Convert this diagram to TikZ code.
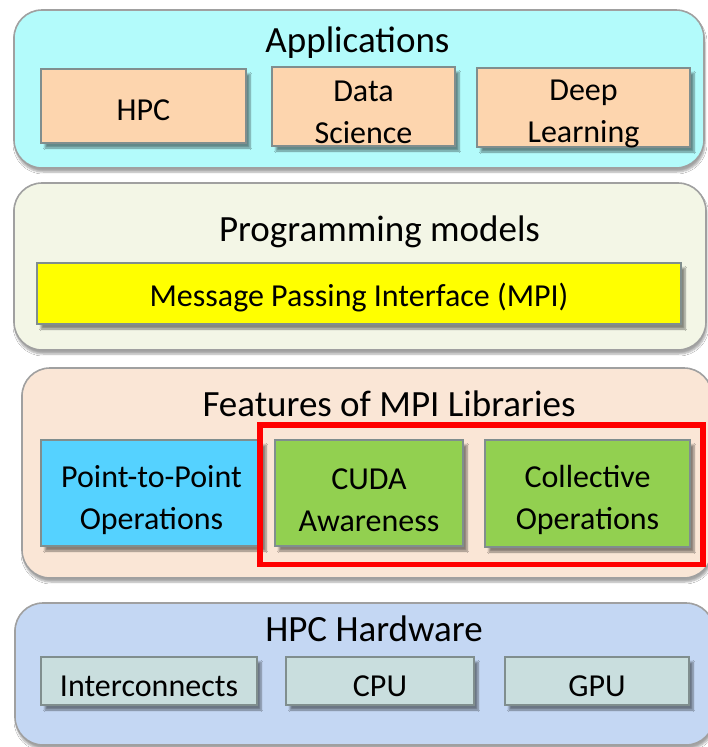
\documentclass[tikz,border=0pt]{standalone}
\usepackage{fontspec}
\setmainfont{Carlito}
\usetikzlibrary{shadows,shadows.blur}
\definecolor{appbg}{HTML}{B3FBFB}
\definecolor{progbg}{HTML}{F3F6E6}
\definecolor{featbg}{HTML}{FAE6D6}
\definecolor{hwbg}{HTML}{C4D7F3}
\definecolor{peach}{HTML}{FDD5AE}
\definecolor{mpiyel}{HTML}{FFFF00}
\definecolor{ptpblue}{HTML}{55D2FF}
\definecolor{featgreen}{HTML}{92D050}
\definecolor{hwbox}{HTML}{C9DEDE}
\definecolor{outerline}{HTML}{A0A0A0}
\definecolor{innerline}{HTML}{808E8E}
\tikzset{
  layer/.style={draw=outerline, line width=1.6pt, rounded corners=28pt,
    blur shadow={shadow xshift=1pt, shadow yshift=-4pt, shadow blur steps=6, shadow opacity=35}},
  innerbox/.style={draw=innerline, line width=1.4pt,
    blur shadow={shadow xshift=4pt, shadow yshift=-5pt, shadow blur steps=6, shadow opacity=45}},
  boxtext/.style={font=\fontsize{32}{42}\selectfont, align=center, text=black},
  titletext/.style={font=\fontsize{37}{44}\selectfont, anchor=base, text=black},
}
\begin{document}
\begin{tikzpicture}[x=1pt,y=-1pt]
\useasboundingbox (0,0) rectangle (708,747);
\fill[white] (0,0) rectangle (708,747);
% Layer 1
\draw[layer, fill=appbg] (14,10) rectangle (704,168);
\node[titletext] (apptitle) at (357.5,52) {Applications};
\draw[innerbox, fill=peach] (41,69) rectangle (246,143);
\draw[innerbox, fill=peach] (272,67) rectangle (455,146);
\draw[innerbox, fill=peach] (477,68) rectangle (690,147);
\node[boxtext] (hpc) at (143.5,110) {HPC};
\node[boxtext] (ds) at (363.5,112.5) {Data\\Science};
\node[boxtext] (dl) at (583.5,113.5) {Deep\\Learning};
% Layer 2
\draw[layer, fill=progbg] (14,183) rectangle (706,350);
\node[titletext] (progtitle) at (379.5,241) {Programming models};
\draw[innerbox, fill=mpiyel] (37,263) rectangle (681,324);
\node[boxtext] (mpi) at (359,298) {Message Passing Interface (MPI)};
% Layer 3
\draw[layer, fill=featbg] (22,368) rectangle (712,578);
\node[titletext] (feattitle) at (389,416) {Features of MPI Libraries};
\draw[innerbox, fill=ptpblue] (41,440) rectangle (262,546);
\draw[innerbox, fill=featgreen] (275,440) rectangle (463,546);
\draw[innerbox, fill=featgreen] (485,440) rectangle (690,547);
\node[boxtext] (ptp) at (151.5,500) {Point-to-Point\\Operations};
\node[boxtext] (cuda) at (369,500) {CUDA\\Awareness};
\node[boxtext] (coll) at (587.5,500) {Collective\\Operations};
\draw[red, line width=5.5pt] (260,425) rectangle (703,564.5);
% Layer 4
\draw[layer, fill=hwbg] (15,603) rectangle (714,745);
\node[titletext] (hwtitle) at (374,641) {HPC Hardware};
\draw[innerbox, fill=hwbox] (41,657) rectangle (257,705);
\draw[innerbox, fill=hwbox] (286,657) rectangle (474,705);
\draw[innerbox, fill=hwbox] (505,657) rectangle (689,705);
\node[boxtext] (ic) at (149,686.5) {Interconnects};
\node[boxtext] (cpu) at (380,686.5) {CPU};
\node[boxtext] (gpu) at (597,686.5) {GPU};
\end{tikzpicture}
\end{document}
